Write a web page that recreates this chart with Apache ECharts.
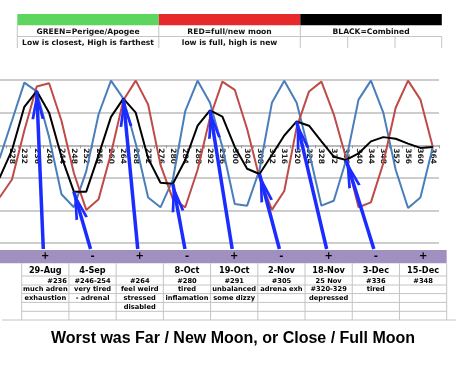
<!DOCTYPE html>
<html><head><meta charset="utf-8">
<script src="https://cdn.jsdelivr.net/npm/echarts@6/dist/echarts.min.js"></script>
<style>html,body{margin:0;padding:0;background:#fff}#c{width:456px;height:368px}</style>
</head><body><div id="c"></div>
<script>
// ---- data ----
const categories = ['224','228','232','236','240','244','248','252','256','260','264','268','272','276','280','284','288','292','296','300','304','308','312','316','320','324','328','332','336','340','344','348','352','356','360','364'];
const hiddenLabels = ['224'];
const perigeeApogee = [-0.4,0.75,1.92,1.65,0.25,-1.5,-1.9,-0.8,0.95,1.98,1.43,0.05,-1.6,-1.9,-1.05,1.05,1.98,1.3,-0.05,-1.8,-1.85,-0.75,1.3,1.98,1.3,-0.2,-1.85,-1.7,-0.45,1.4,1.98,1.0,-0.75,-1.92,-1.6,-0.05];
const fullNewMoon = [-1.6,-1.05,0.45,1.8,1.9,0.75,-0.85,-1.98,-1.65,-0.25,1.38,1.98,1.25,-0.6,-1.65,-1.9,-0.75,0.85,1.95,1.7,0.5,-1.0,-1.98,-1.4,0.55,1.65,1.95,0.95,-0.4,-1.9,-1.75,-0.55,1.15,1.98,1.4,-0.05];
const combined = [-1.0,-0.15,1.18,1.66,1.0,-0.35,-1.42,-1.42,-0.3,0.87,1.43,1.0,-0.4,-1.15,-1.18,-0.45,0.6,1.07,0.88,-0.05,-0.72,-0.88,-0.3,0.3,0.73,0.6,0.12,-0.35,-0.45,-0.25,0.12,0.25,0.2,0.05,-0.08,-0.05];
const arrowTargets = ['236','248','264','280','292','308','320','336'];
const signs = ['+','-','+','-','+','-','+','-','+'];
const dates = ['29-Aug','4-Sep','','8-Oct','19-Oct','2-Nov','18-Nov','3-Dec','15-Dec'];
const notes = [
  ['#236','much adren','exhaustion',''],
  ['#246-254','very tired','- adrenal',''],
  ['#264','feel weird','stressed','disabled'],
  ['#280','tired','inflamation',''],
  ['#291','unbalanced','some dizzy',''],
  ['#305','adrena exh','',''],
  ['25 Nov','#320-329','depressed',''],
  ['#336','tired','',''],
  ['#348','','','']
];
const headerTitles = ['GREEN=Perigee/Apogee','RED=full/new moon','BLACK=Combined'];
const headerNotes = ['Low is closest, High is farthest','low is full, high is new',''];
const footerTitle = 'Worst was Far / New Moon, or Close / Full Moon';

// ---- layout ----
const tableLeft = 21.7, colW = 47.22;
const purpleTop = 250, purpleBottom = 263.3;
const rowLines = [276, 285, 293.6, 302.4, 311.3];
const tableBottom = 320;
const dateY = 270.5, noteYs = [280.8, 289.6, 298.2, 306.9];
const hdrLeft = 17.3, hdrCellW = 141.5, barTop = 14, barH = 11.3;
const hdrColors = ['#5ed55e','#e6292b','#000000'];
const gray = '#c4c4c4';
const gridTop = 80, gridBottomPx = 243.2, yMin = -3, yMax = 2;
const zeroOffset = (gridBottomPx - gridTop) * (0 - yMin) / (yMax - yMin);

const g = [];
function txt(x, y, text, size, extra) {
  const align = (extra && extra.align) || 'center';
  return {type:'text', x, y, silent:true, style:Object.assign({text, fontSize:size, fontWeight:'bold', fontFamily:'DejaVu Sans', fill:'#000', align, verticalAlign:'middle', textAlign:align, textVerticalAlign:'middle'}, extra || {})};
}
function ln(x1, y1, x2, y2) { return {type:'line', silent:true, shape:{x1, y1, x2, y2}, style:{stroke:gray, lineWidth:1}}; }
// header bars & texts
for (let i = 0; i < 3; i++) {
  const x0 = hdrLeft + i * hdrCellW;
  g.push({type:'rect', silent:true, shape:{x:x0, y:barTop, width:hdrCellW, height:barH}, style:{fill:hdrColors[i]}});
  g.push(txt(x0 + hdrCellW/2, 31.6, headerTitles[i], 7.6, {fill:'#111'}));
  if (headerNotes[i]) g.push(txt(x0 + hdrCellW/2, 42.6, headerNotes[i], 7.6, {fill:'#111'}));
}
g.push(ln(hdrLeft, 36.5, hdrLeft + 3*hdrCellW, 36.5));
[hdrLeft, hdrLeft+hdrCellW, hdrLeft+2*hdrCellW].forEach(x => g.push(ln(x, 25.3, x, 48)));
[347.7, 395, 441.7].forEach(x => g.push(ln(x, 36.5, x, 48)));

// purple row
g.push({type:'rect', silent:true, shape:{x:0, y:purpleTop, width:tableLeft + 9*colW, height:purpleBottom-purpleTop}, style:{fill:'#a090c0'}});
signs.forEach((s, i) => g.push(txt(tableLeft + (i+0.5)*colW, (purpleTop+purpleBottom)/2, s, 10)));
// table grid
rowLines.forEach(y => g.push(ln(tableLeft, y, tableLeft + 9*colW, y)));
g.push(ln(2, tableBottom, 456, tableBottom));
for (let i = 0; i <= 9; i++) { const x = tableLeft + i*colW; g.push(ln(x, purpleBottom, x, tableBottom)); }
// table texts
dates.forEach((d, i) => { if (d) g.push(txt(tableLeft + (i+0.5)*colW, dateY, d, 8.2)); });
notes.forEach((col, i) => col.forEach((t, r) => {
  if (!t) return;
  const right = (i === 0 && r === 0);
  g.push(txt(right ? tableLeft + (i+1)*colW - 2 : tableLeft + (i+0.5)*colW, noteYs[r], t, 6.7, right ? {align:'right'} : null));
}));
// footer
g.push(txt(233, 338.5, footerTitle, 16, {fontFamily:'Liberation Sans'}));

const arrowPath = 'path://M50 0 L50 1 M50 100 L100 200 L78 200 L50 138 L22 200 L0 200 Z';

const chart = echarts.init(document.getElementById('c'), null, {renderer:'canvas'});
chart.setOption({
  animation: false,
  backgroundColor: '#fff',
  grid: {left: -6.6, right: 17, top: gridTop, bottom: 368 - gridBottomPx, containLabel: false, outerBoundsMode: 'none'},
  xAxis: {
    type: 'category', data: categories, boundaryGap: true,
    offset: -zeroOffset,
    axisLine: {onZero: false, lineStyle: {color: '#b5b5b5', width: 1.5}},
    axisTick: {show: true, length: 3, lineStyle: {color: '#999'}},
    axisLabel: {interval: 0, rotate: -90, margin: 3, fontSize: 7.5, fontWeight: 'bold', fontFamily: 'DejaVu Sans', color: '#222', hideOverlap: false,
      formatter: v => hiddenLabels.includes(v) ? '' : v},
    splitLine: {show: false}
  },
  yAxis: {
    type: 'value', min: yMin, max: yMax, interval: 1,
    axisLabel: {show: false}, axisLine: {show: false}, axisTick: {show: false},
    splitLine: {lineStyle: {color: '#bdbdbd', width: 1.5}}
  },
  series: [
    {name: 'Perigee/Apogee', type: 'line', data: perigeeApogee, symbol: 'none', lineStyle: {color: '#4a7ebb', width: 2}, itemStyle: {color: '#4a7ebb'}},
    {name: 'Full/New moon', type: 'line', data: fullNewMoon, symbol: 'none', lineStyle: {color: '#be4b48', width: 2}, itemStyle: {color: '#be4b48'}},
    {name: 'Combined', type: 'line', data: combined, symbol: 'none', clip: false, lineStyle: {color: '#000', width: 2}, itemStyle: {color: '#000'},
      markLine: {
        silent: true, animation: false,
        symbol: ['none', arrowPath],
        label: {show: false},
        lineStyle: {color: '#1a2cff', width: 3.5, type: 'solid'},
        itemStyle: {color: '#1a2cff'},
        emphasis: {disabled: true},
        data: arrowTargets.map((cat, i) => [
          {x: tableLeft + (i + 0.5) * colW - 2, y: 249, symbol: 'none'},
          {coord: [cat, combined[categories.indexOf(cat)]], symbol: arrowPath, symbolSize: [13, 56]}
        ])
      }
    }
  ],
  graphic: g
});
</script></body></html>
